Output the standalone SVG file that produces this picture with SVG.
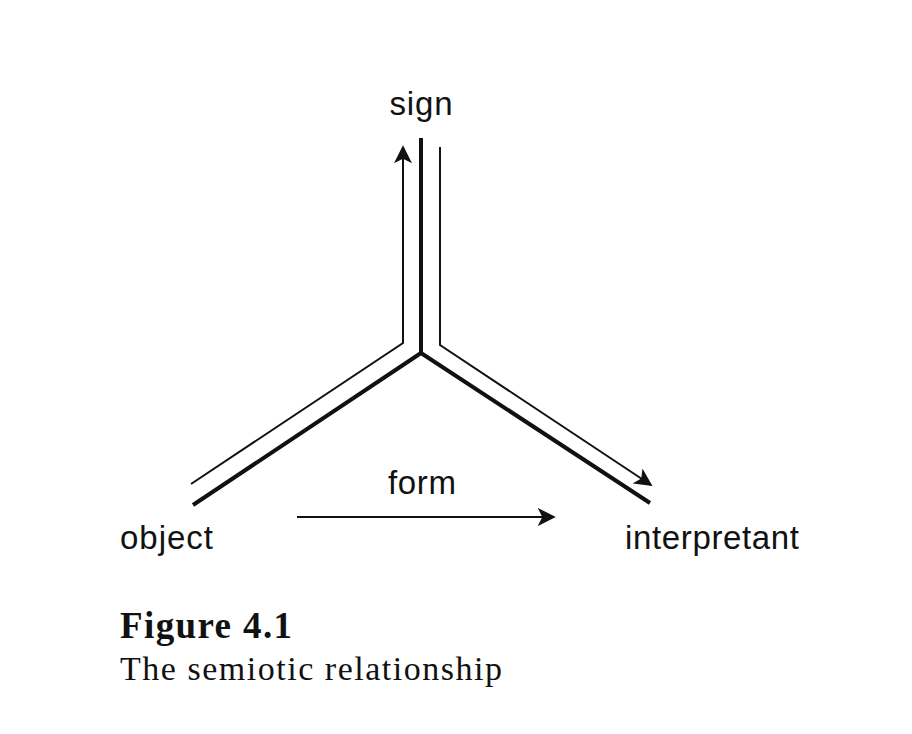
<svg xmlns="http://www.w3.org/2000/svg" width="912" height="734" viewBox="0 0 912 734">
<style>
.lbl{font-family:"Liberation Sans",Arial,sans-serif;font-size:33px;fill:#111}
.cap{font-family:"Liberation Serif","Times New Roman",serif;fill:#111}
.thick{stroke:#111;stroke-width:4;fill:none}
.thin{stroke:#111;stroke-width:2;fill:none}
</style>
<defs>
<marker id="ah2" viewBox="0 0 10 10" refX="9" refY="5" markerWidth="18" markerHeight="18" markerUnits="userSpaceOnUse" orient="auto"><path d="M0,0 L10,5 L0,10 L2.5,5 Z" fill="#111"/></marker>
</defs>
<rect width="912" height="734" fill="#fff"/>
<g id="connectors">
<path class="thick" d="M421,138 V353 M421,353 L193,505 M421,353 L650,503"/>
<path class="thin" d="M191,484 L403,343 V147" marker-end="url(#ah2)"/>
<path class="thin" d="M440,147 V345 L651,485" marker-end="url(#ah2)"/>
<path class="thin" d="M297,517 H554" stroke-width="2.5" marker-end="url(#ah2)"/>
</g>
<g id="sign"><text class="lbl" x="421" y="115" text-anchor="middle" textLength="63">sign</text></g>
<g id="object"><text class="lbl" x="120" y="549" textLength="93">object</text></g>
<g id="interpretant"><text class="lbl" x="625" y="549" textLength="174">interpretant</text></g>
<g id="form"><text class="lbl" x="422" y="494" text-anchor="middle" textLength="68">form</text></g>
<g id="caption">
<text class="cap" x="120" y="638" font-size="37" font-weight="bold" textLength="172">Figure 4.1</text>
<text class="cap" x="120" y="680" font-size="34" textLength="382">The semiotic relationship</text>
</g>
</svg>
